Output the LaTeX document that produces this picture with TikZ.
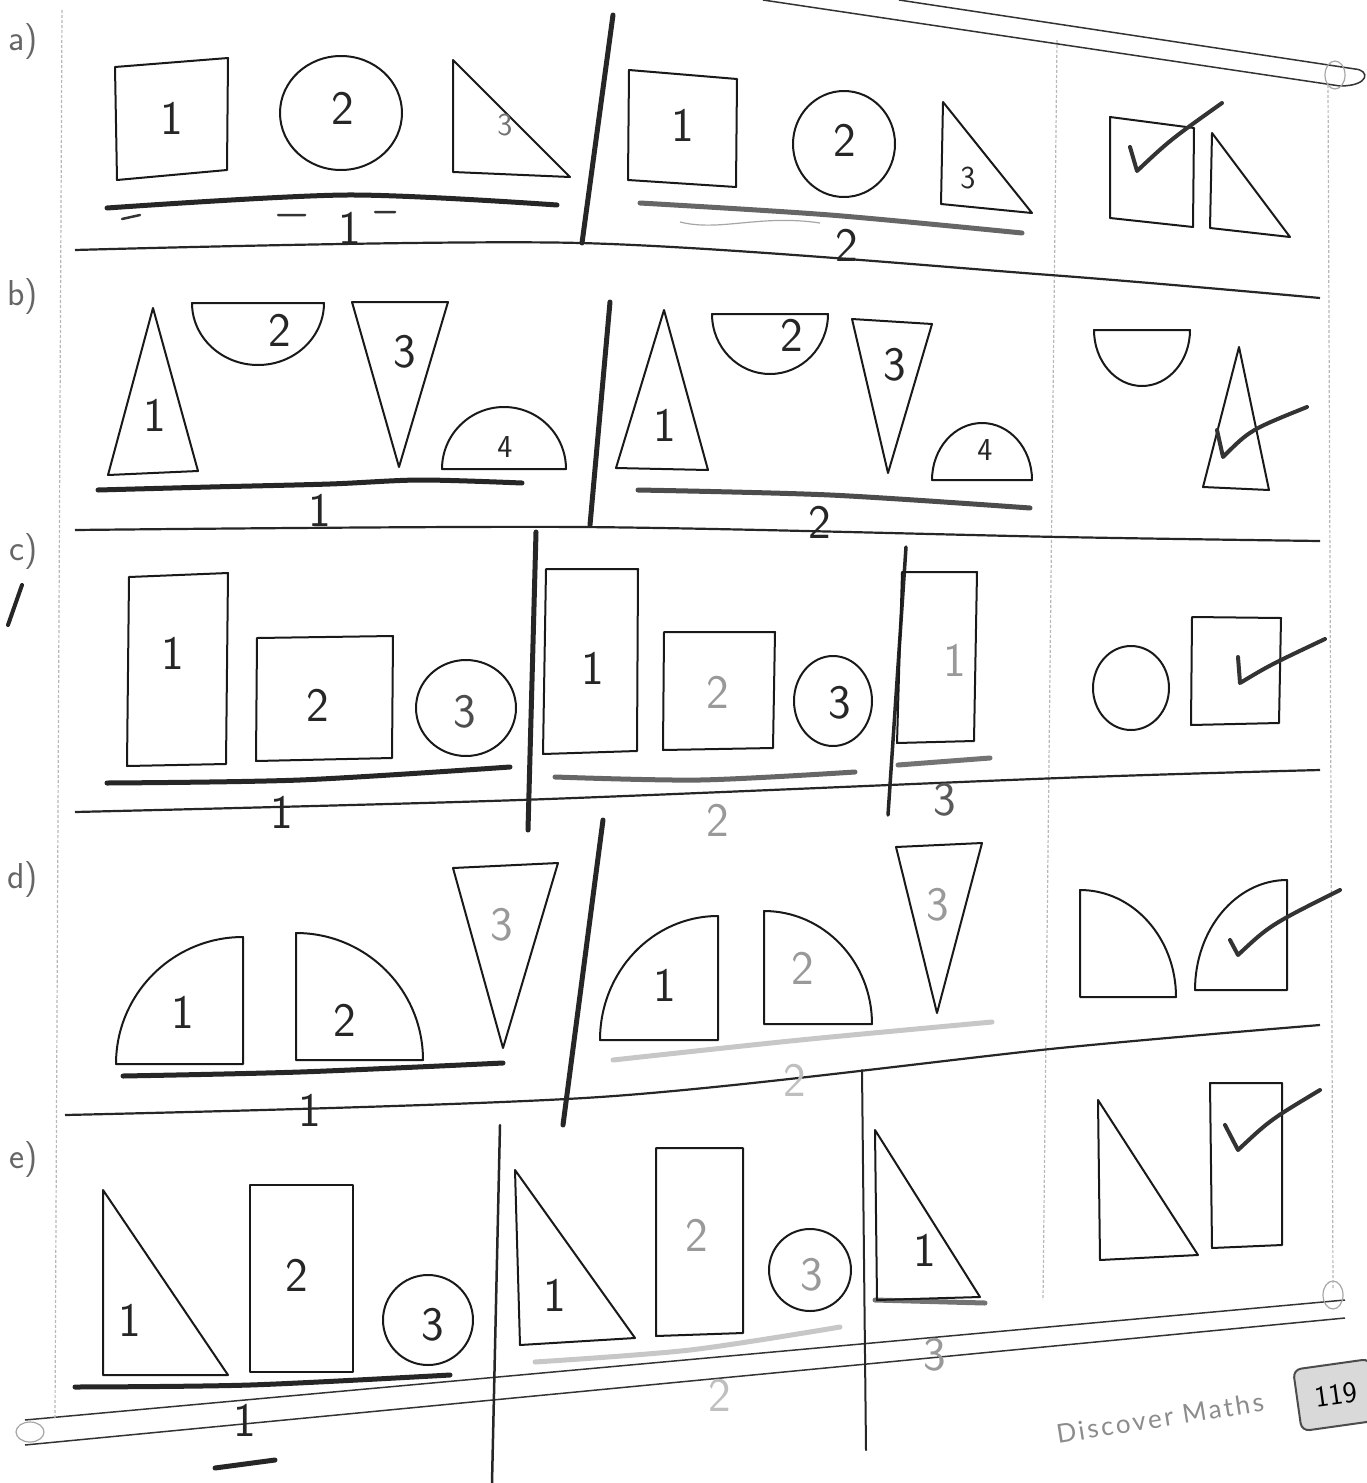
\documentclass[tikz,border=0pt]{standalone}
\usepackage{fontspec}
\newfontfamily\dmfont[LetterSpace=10]{Lato}
\begin{document}
\begin{tikzpicture}[x=1pt,y=1pt,
  shp/.style={draw=black!90, line width=2pt, line join=round},
  rulel/.style={draw=black!85, line width=2.2pt},
  pen/.style={draw=black!85, line width=5pt, line cap=round},
  faint/.style={draw=black!28, line width=1.2pt, dash pattern=on 3pt off 2pt},
  lab/.style={font=\sffamily\fontsize{48}{48}\selectfont, text=black!85, inner sep=0pt},
  labs/.style={lab, font=\sffamily\fontsize{32}{32}\selectfont},
  labg/.style={lab, text=black!40},
  chk/.style={draw=black!80, line width=4pt, line cap=round, line join=round},
  side/.style={font=\sffamily\fontsize{36}{36}\selectfont, text=black!60, inner sep=0pt, anchor=east},
  border/.style={draw=black!80, line width=1.5pt},
  ring/.style={draw=black!35, line width=1.2pt},
]
\useasboundingbox (0,0) rectangle (1366,-1483);
\fill[white] (0,0) rectangle (1366,-1483);

% ---------- page borders ----------
\draw[border] (763,0) -- (1340,-86) .. controls (1370,-86) and (1370,-70) .. (1355,-69) -- (899,0);
\draw[border] (25,-1420) -- (1345,-1300);
\draw[border] (25,-1445) -- (1345,-1318);
\draw[ring] (1335,-75) ellipse [x radius=10pt, y radius=14pt];
\draw[ring] (1333,-1295) ellipse [x radius=10pt, y radius=14pt];
\draw[ring] (30,-1432) ellipse [x radius=14pt, y radius=10pt];

% ---------- faint column lines ----------
\draw[faint] (1057,-40) -- (1043,-1300);
\draw[faint] (1328,-85) -- (1333,-1290);
\draw[faint] (62,-10) -- (55,-1420);

% ---------- row separators ----------
\draw[rulel] plot[smooth] coordinates {(75,-250) (580,-243) (1050,-275) (1320,-298)};
\draw[rulel] plot[smooth] coordinates {(75,-530) (580,-527) (1060,-537) (1320,-541)};
\draw[rulel] plot[smooth] coordinates {(75,-812) (520,-800) (1060,-778) (1320,-770)};
\draw[rulel] plot[smooth] coordinates {(65,-1115) (600,-1097) (1060,-1048) (1320,-1025)};

% ---------- pencil column separators ----------
\draw[pen] (613,-15) -- (582,-243);
\draw[pen] (610,-302) -- (590,-525);
\draw[pen] (536,-532) -- (528,-830);
\draw[pen, line width=3.5pt] (906,-547) -- (888,-815);
\draw[pen] (603,-820) -- (563,-1125);
\draw[pen, line width=2.5pt] (500,-1125) -- (492,-1483);
\draw[pen, line width=2pt] (862,-1070) -- (866,-1450);

% ---------- pencil underlines ----------
\draw[pen] plot[smooth] coordinates {(107,-208) (347,-195) (557,-205)};
\draw[black!80, line width=2.5pt, line cap=round] (122,-219) -- (140,-215) (278,-215) -- (305,-215) (375,-212) -- (395,-212);
\draw[pen, draw=black!60] plot[smooth] coordinates {(640,-203) (830,-215) (1022,-233)};
\draw[black!35, line width=1.2pt] (680,-222) .. controls (720,-232) and (760,-214) .. (820,-223);
\draw[pen] plot[smooth] coordinates {(98,-490) (210,-487) (330,-484) (420,-480) (522,-483)};
\draw[pen, draw=black!70] plot[smooth] coordinates {(638,-490) (830,-495) (1030,-508)};
\draw[pen] plot[smooth] coordinates {(107,-783) (300,-780) (510,-767)};
\draw[pen, draw=black!60] plot[smooth] coordinates {(555,-777) (700,-780) (855,-772)};
\draw[pen, draw=black!55] (898,-765) -- (990,-758);
\draw[pen] plot[smooth] coordinates {(123,-1076) (300,-1072) (503,-1063)};
\draw[pen, draw=black!22] plot[smooth] coordinates {(613,-1060) (800,-1040) (992,-1022)};
\draw[pen] plot[smooth] coordinates {(75,-1387) (250,-1385) (450,-1375)};
\draw[pen, draw=black!22] plot[smooth] coordinates {(535,-1362) (690,-1350) (840,-1327)};
\draw[pen, draw=black!55] (875,-1300) -- (985,-1303);
\draw[pen] (215,-1468) -- (275,-1460);
\draw[pen, line width=4pt] (22,-585) -- (8,-625);

% ---------- side labels ----------
\node[side] (la) at (38,-42) {a)};
\node[side] (lb) at (38,-297) {b)};
\node[side] (lc) at (38,-552) {c)};
\node[side] (ld) at (38,-880) {d)};
\node[side] (le) at (38,-1160) {e)};

% ================= row a =================
\draw[shp] (115,-67) -- (228,-58) -- (227,-170) -- (117,-180) -- cycle;
\node[lab] (a11) at (172,-118) {1};
\draw[shp] (341,-113) ellipse [x radius=61pt, y radius=57pt];
\node[lab] (a12) at (343,-108) {2};
\draw[shp] (453,-60) -- (453,-172) -- (570,-177) -- cycle;
\node[labs, text=black!55] (a13) at (505,-125) {3};
\node[lab] (a1l) at (350,-228) {1};

\draw[shp] (629,-70) -- (737,-79) -- (736,-187) -- (628,-180) -- cycle;
\node[lab] (a21) at (683,-125) {1};
\draw[shp] (844,-144) ellipse [x radius=51pt, y radius=53pt];
\node[lab] (a22) at (845,-140) {2};
\draw[shp] (943,-102) -- (941,-204) -- (1032,-213) -- cycle;
\node[labs] (a23) at (968,-178) {3};
\node[lab] (a2l) at (847,-245) {2};

\draw[shp] (1110,-117) -- (1194,-128) -- (1193,-227) -- (1110,-218) -- cycle;
\draw[shp] (1212,-133) -- (1210,-228) -- (1290,-237) -- cycle;
\draw[chk] (1130,-147) -- (1137,-171) .. controls (1170,-140) .. (1222,-103);

% ================= row b =================
\draw[shp] (153,-308) -- (108,-475) -- (198,-471) -- cycle;
\node[lab] (b11) at (155,-415) {1};
\draw[shp] (192,-303) arc[start angle=180, end angle=360, x radius=66pt, y radius=62pt] -- cycle;
\node[lab] (b12) at (280,-330) {2};
\draw[shp] (352,-302) -- (448,-302) -- (399,-467) -- cycle;
\node[lab] (b13) at (405,-352) {3};
\draw[shp] (442,-469) arc[start angle=180, end angle=0, radius=62pt] -- cycle;
\node[labs] (b14) at (505,-447) {4};
\node[lab] (b1l) at (320,-510) {1};

\draw[shp] (664,-310) -- (616,-468) -- (708,-470) -- cycle;
\node[lab] (b21) at (665,-425) {1};
\draw[shp] (712,-314) arc[start angle=180, end angle=360, x radius=58pt, y radius=60pt] -- cycle;
\node[lab] (b22) at (792,-335) {2};
\draw[shp] (852,-319) -- (932,-324) -- (888,-473) -- cycle;
\node[lab] (b23) at (895,-365) {3};
\draw[shp] (932,-480) arc[start angle=180, end angle=0, x radius=50pt, y radius=57pt] -- cycle;
\node[labs] (b24) at (985,-450) {4};
\node[lab] (b2l) at (820,-522) {2};

\draw[shp] (1094,-330) arc[start angle=180, end angle=360, x radius=48pt, y radius=56pt] -- cycle;
\draw[shp] (1239,-347) -- (1203,-487) -- (1269,-490) -- cycle;
\draw[chk] (1217,-430) -- (1223,-457) .. controls (1250,-430) .. (1307,-407);

% ================= row c =================
\draw[shp] (129,-577) -- (228,-573) -- (226,-764) -- (127,-766) -- cycle;
\node[lab] (c11) at (173,-653) {1};
\draw[shp] (257,-638) -- (393,-636) -- (392,-758) -- (256,-761) -- cycle;
\node[lab] (c12) at (318,-705) {2};
\draw[shp] (466,-708) ellipse [x radius=50pt, y radius=48pt];
\node[lab, text=black!70] (c13) at (465,-712) {3};
\node[lab] (c1l) at (282,-812) {1};

\draw[shp] (546,-569) -- (638,-569) -- (637,-751) -- (543,-754) -- cycle;
\node[lab] (c21) at (593,-668) {1};
\draw[shp] (664,-632) -- (775,-632) -- (773,-748) -- (663,-750) -- cycle;
\node[labg] (c22) at (718,-692) {2};
\draw[shp] (833,-701) ellipse [x radius=39pt, y radius=45pt];
\node[lab] (c23) at (840,-703) {3};
\node[labg] (c2l) at (718,-820) {2};
\draw[shp] (902,-572) -- (977,-572) -- (974,-741) -- (897,-743) -- cycle;
\node[labg] (c31) at (955,-660) {1};
\node[lab, text=black!65] (c3l) at (945,-800) {3};

\draw[shp] (1131,-688) ellipse [x radius=38pt, y radius=42pt];
\draw[shp] (1192,-617) -- (1281,-618) -- (1279,-723) -- (1191,-725) -- cycle;
\draw[chk] (1238,-657) -- (1240,-683) .. controls (1270,-665) .. (1325,-639);

% ================= row d =================
\draw[shp] (116,-1064) arc[start angle=180, end angle=90, radius=127pt] -- (243,-1064) -- cycle;
\node[lab] (d11) at (183,-1012) {1};
\draw[shp] (296,-1060) -- (296,-933) arc[start angle=90, end angle=0, radius=127pt] -- cycle;
\node[lab] (d12) at (345,-1020) {2};
\draw[shp] (453,-868) -- (558,-863) -- (503,-1048) -- cycle;
\node[labg] (d13) at (502,-925) {3};
\node[lab] (d1l) at (310,-1110) {1};

\draw[shp] (600,-1040) arc[start angle=180, end angle=90, x radius=118pt, y radius=124pt] -- (718,-1040) -- cycle;
\node[lab] (d21) at (665,-985) {1};
\draw[shp] (764,-1024) -- (764,-911) arc[start angle=90, end angle=0, x radius=108pt, y radius=113pt] -- cycle;
\node[labg] (d22) at (803,-968) {2};
\draw[shp] (896,-847) -- (982,-843) -- (937,-1013) -- cycle;
\node[labg] (d23) at (938,-905) {3};
\node[labg, text=black!25] (d2l) at (795,-1080) {2};

\draw[shp] (1080,-997) -- (1080,-890) arc[start angle=90, end angle=0, x radius=96pt, y radius=107pt] -- cycle;
\draw[shp] (1287,-990) -- (1287,-880) arc[start angle=90, end angle=180, x radius=92pt, y radius=110pt] -- cycle;
\draw[chk] (1230,-940) -- (1238,-955) .. controls (1270,-925) .. (1340,-890);

% ================= row e =================
\draw[shp] (103,-1190) -- (103,-1375) -- (228,-1375) -- cycle;
\node[lab] (e11) at (130,-1320) {1};
\draw[shp] (250,-1185) -- (353,-1185) -- (353,-1372) -- (250,-1372) -- cycle;
\node[lab] (e12) at (297,-1275) {2};
\draw[shp] (428,-1320) circle [radius=45pt];
\node[lab] (e13) at (433,-1325) {3};
\node[lab] (e1l) at (245,-1420) {1};

\draw[shp] (515,-1170) -- (520,-1345) -- (635,-1338) -- cycle;
\node[lab] (e21) at (555,-1295) {1};
\draw[shp] (656,-1148) -- (743,-1148) -- (743,-1333) -- (656,-1336) -- cycle;
\node[labg] (e22) at (697,-1235) {2};
\draw[shp] (810,-1270) circle [radius=41pt];
\node[labg] (e23) at (812,-1275) {3};
\node[labg, text=black!25] (e2l) at (720,-1395) {2};
\draw[shp] (875,-1130) -- (877,-1300) -- (980,-1297) -- cycle;
\node[lab] (e31) at (925,-1250) {1};
\node[labg] (e3l) at (935,-1355) {3};

\draw[shp] (1098,-1100) -- (1100,-1260) -- (1198,-1255) -- cycle;
\draw[shp] (1210,-1083) -- (1282,-1083) -- (1282,-1245) -- (1212,-1248) -- cycle;
\draw[chk] (1225,-1125) -- (1238,-1150) .. controls (1270,-1120) .. (1320,-1090);

% ---------- footer ----------
\node[font=\dmfont\fontsize{26}{26}\selectfont, text=black!45, rotate=9] (dm) at (1160,-1418) {Discover Maths};
\node[draw=black!70, fill=black!15, rounded corners=8pt, line width=2pt, rotate=8,
      minimum width=78pt, minimum height=62pt, font=\sffamily\fontsize{30}{30}\selectfont] (pg) at (1336,-1395) {119};
\end{tikzpicture}
\end{document}
